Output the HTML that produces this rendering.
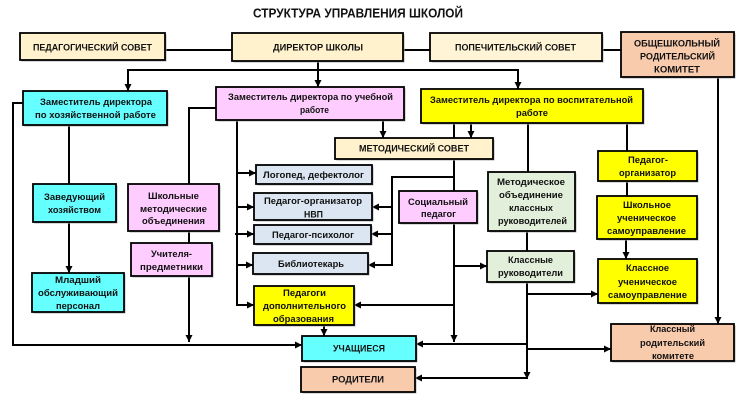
<!DOCTYPE html>
<html><head><meta charset="utf-8"><style>
html,body{margin:0;padding:0;background:#fff;}
svg{display:block;}
text{font-family:"Liberation Sans",sans-serif;font-weight:bold;font-size:9.5px;fill:#111;}
</style></head><body>
<svg width="750" height="408" viewBox="0 0 750 408" xmlns="http://www.w3.org/2000/svg">
<defs>
<marker id="a" viewBox="0 0 8 8" refX="8" refY="4" markerWidth="7" markerHeight="7" markerUnits="userSpaceOnUse" orient="auto"><path d="M0,0 L8,4 L0,8 z" fill="#000"/></marker>
</defs>
<text x="253" y="17.5" textLength="210" lengthAdjust="spacingAndGlyphs" style="font-size:12.5px">СТРУКТУРА УПРАВЛЕНИЯ ШКОЛОЙ</text>

<g stroke="#000" stroke-width="2" fill="none">
<line x1="165" y1="50" x2="232" y2="50"/>
<line x1="403" y1="50" x2="430" y2="50"/>
<line x1="602" y1="50" x2="621" y2="50"/>
<line x1="318" y1="61" x2="318" y2="70"/>
<line x1="127" y1="70" x2="519" y2="70"/>
<line x1="128" y1="70" x2="128" y2="91" marker-end="url(#a)"/>
<line x1="318" y1="70" x2="318" y2="87" marker-end="url(#a)"/>
<line x1="518" y1="70" x2="518" y2="89" marker-end="url(#a)"/>
<line x1="718" y1="77" x2="718" y2="324" marker-end="url(#a)"/>
<polyline points="23,103 13,103 13,345 302,345" marker-end="url(#a)"/>
<line x1="69" y1="125" x2="69" y2="184"/>
<line x1="69" y1="222" x2="69" y2="273" marker-end="url(#a)"/>
<polyline points="216,108 189,108 189,184"/>
<line x1="189" y1="231" x2="189" y2="243"/>
<line x1="189" y1="276" x2="189" y2="342" marker-end="url(#a)"/>
<line x1="237" y1="120" x2="237" y2="306"/>
<line x1="236" y1="173" x2="256" y2="173" marker-end="url(#a)"/>
<line x1="236" y1="207" x2="254" y2="207" marker-end="url(#a)"/>
<line x1="235" y1="234" x2="254" y2="234" marker-end="url(#a)"/>
<line x1="236" y1="265" x2="253" y2="265" marker-end="url(#a)"/>
<line x1="236" y1="305" x2="254" y2="305" marker-end="url(#a)"/>
<line x1="383" y1="120" x2="383" y2="138" marker-end="url(#a)"/>
<line x1="454" y1="123" x2="454" y2="138"/>
<line x1="471" y1="123" x2="471" y2="138" marker-end="url(#a)"/>
<line x1="454" y1="159" x2="454" y2="191"/>
<polyline points="454,177 392,177 392,266"/>
<line x1="393" y1="207" x2="372" y2="207" marker-end="url(#a)"/>
<line x1="393" y1="234" x2="371" y2="234" marker-end="url(#a)"/>
<line x1="393" y1="265" x2="368" y2="265" marker-end="url(#a)"/>
<line x1="454" y1="223" x2="454" y2="342" marker-end="url(#a)"/>
<line x1="455" y1="305" x2="354" y2="305" marker-end="url(#a)"/>
<line x1="453" y1="266" x2="487" y2="266" marker-end="url(#a)"/>
<line x1="324" y1="325" x2="324" y2="336" marker-end="url(#a)"/>
<line x1="528" y1="123" x2="528" y2="172"/>
<line x1="527" y1="231" x2="527" y2="251"/>
<line x1="527" y1="282" x2="527" y2="379" marker-end="url(#a)"/>
<line x1="526" y1="294" x2="598" y2="294" marker-end="url(#a)"/>
<line x1="528" y1="344" x2="416" y2="344" marker-end="url(#a)"/>
<line x1="526" y1="349" x2="611" y2="349" marker-end="url(#a)"/>
<line x1="528" y1="378" x2="415" y2="378" marker-end="url(#a)"/>
<line x1="627" y1="123" x2="627" y2="151"/>
<line x1="627" y1="181" x2="627" y2="196"/>
<line x1="626" y1="239" x2="626" y2="259" marker-end="url(#a)"/>
</g>

<g fill="#b0b0b0" transform="translate(1.5,1.5)">
<rect x="20" y="33" width="145" height="27"/>
<rect x="232" y="33" width="171" height="28"/>
<rect x="430" y="33" width="172" height="28"/>
<rect x="621" y="32" width="113" height="45"/>
<rect x="23" y="91" width="144" height="34"/>
<rect x="216" y="87" width="188" height="33"/>
<rect x="421" y="89" width="222" height="34"/>
<rect x="335" y="138" width="158" height="21"/>
<rect x="256" y="165" width="116" height="19"/>
<rect x="254" y="193" width="118" height="27"/>
<rect x="254" y="225" width="117" height="19"/>
<rect x="253" y="253" width="115" height="21"/>
<rect x="254" y="286" width="100" height="39"/>
<rect x="302" y="336" width="114" height="25"/>
<rect x="301" y="367" width="114" height="25"/>
<rect x="399" y="191" width="78" height="32"/>
<rect x="33" y="184" width="83" height="38"/>
<rect x="32" y="273" width="92" height="39"/>
<rect x="128" y="184" width="91" height="47"/>
<rect x="131" y="243" width="81" height="33"/>
<rect x="488" y="172" width="87" height="59"/>
<rect x="487" y="251" width="87" height="31"/>
<rect x="598" y="151" width="99" height="30"/>
<rect x="597" y="196" width="100" height="43"/>
<rect x="598" y="259" width="99" height="44"/>
<rect x="611" y="324" width="123" height="37"/>
</g>

<g stroke="#000" stroke-width="1.8">
<rect x="20" y="33" width="145" height="27" fill="#fff2cc"/>
<rect x="232" y="33" width="171" height="28" fill="#fff2cc"/>
<rect x="430" y="33" width="172" height="28" fill="#fff4d6"/>
<rect x="621" y="32" width="113" height="45" fill="#f8cbad"/>
<rect x="23" y="91" width="144" height="34" fill="#66ffff"/>
<rect x="216" y="87" width="188" height="33" fill="#ffccff"/>
<rect x="421" y="89" width="222" height="34" fill="#ffff00"/>
<rect x="335" y="138" width="158" height="21" fill="#fff2cc"/>
<rect x="256" y="165" width="116" height="19" fill="#dce6f2"/>
<rect x="254" y="193" width="118" height="27" fill="#dce6f2"/>
<rect x="254" y="225" width="117" height="19" fill="#dce6f2"/>
<rect x="253" y="253" width="115" height="21" fill="#dce6f2"/>
<rect x="254" y="286" width="100" height="39" fill="#ffff00"/>
<rect x="302" y="336" width="114" height="25" fill="#66ffff"/>
<rect x="301" y="367" width="114" height="25" fill="#f8cbad"/>
<rect x="399" y="191" width="78" height="32" fill="#ffccff"/>
<rect x="33" y="184" width="83" height="38" fill="#66ffff"/>
<rect x="32" y="273" width="92" height="39" fill="#66ffff"/>
<rect x="128" y="184" width="91" height="47" fill="#ffccff"/>
<rect x="131" y="243" width="81" height="33" fill="#ffccff"/>
<rect x="488" y="172" width="87" height="59" fill="#e2efda"/>
<rect x="487" y="251" width="87" height="31" fill="#e2efda"/>
<rect x="598" y="151" width="99" height="30" fill="#ffff00"/>
<rect x="597" y="196" width="100" height="43" fill="#ffff00"/>
<rect x="598" y="259" width="99" height="44" fill="#ffff00"/>
<rect x="611" y="324" width="123" height="37" fill="#f8cbad"/>
</g>

<g>
<text x="33" y="50.5" textLength="119" lengthAdjust="spacingAndGlyphs">ПЕДАГОГИЧЕСКИЙ СОВЕТ</text>
<text x="273" y="50.5" textLength="90" lengthAdjust="spacingAndGlyphs">ДИРЕКТОР ШКОЛЫ</text>
<text x="455" y="50.5" textLength="121" lengthAdjust="spacingAndGlyphs">ПОПЕЧИТЕЛЬСКИЙ СОВЕТ</text>
<text x="634" y="46.5" textLength="86" lengthAdjust="spacingAndGlyphs">ОБЩЕШКОЛЬНЫЙ</text>
<text x="640" y="59.5" textLength="75" lengthAdjust="spacingAndGlyphs">РОДИТЕЛЬСКИЙ</text>
<text x="654" y="72.5" textLength="46" lengthAdjust="spacingAndGlyphs">КОМИТЕТ</text>
<text x="40" y="105" textLength="112" lengthAdjust="spacingAndGlyphs">Заместитель директора</text>
<text x="35" y="118" textLength="121" lengthAdjust="spacingAndGlyphs">по  хозяйственной работе</text>
<text x="228" y="100" textLength="165" lengthAdjust="spacingAndGlyphs">Заместитель директора по учебной</text>
<text x="300" y="113" textLength="29" lengthAdjust="spacingAndGlyphs">работе</text>
<text x="430" y="103" textLength="203" lengthAdjust="spacingAndGlyphs">Заместитель директора по воспитательной</text>
<text x="516" y="116" textLength="32" lengthAdjust="spacingAndGlyphs">работе</text>
<text x="359" y="151.5" textLength="110" lengthAdjust="spacingAndGlyphs">МЕТОДИЧЕСКИЙ СОВЕТ</text>
<text x="263" y="178" textLength="101" lengthAdjust="spacingAndGlyphs">Логопед, дефектолог</text>
<text x="264" y="204" textLength="98" lengthAdjust="spacingAndGlyphs">Педагог-организатор</text>
<text x="304" y="217.5" textLength="19" lengthAdjust="spacingAndGlyphs">НВП</text>
<text x="272" y="238" textLength="82" lengthAdjust="spacingAndGlyphs">Педагог-психолог</text>
<text x="278" y="267" textLength="66" lengthAdjust="spacingAndGlyphs">Библиотекарь</text>
<text x="283" y="296" textLength="43" lengthAdjust="spacingAndGlyphs">Педагоги</text>
<text x="263" y="309" textLength="83" lengthAdjust="spacingAndGlyphs">дополнительного</text>
<text x="273" y="322" textLength="61" lengthAdjust="spacingAndGlyphs">образования</text>
<text x="333" y="351.5" textLength="52" lengthAdjust="spacingAndGlyphs">УЧАЩИЕСЯ</text>
<text x="332" y="382.5" textLength="52" lengthAdjust="spacingAndGlyphs">РОДИТЕЛИ</text>
<text x="408" y="205" textLength="60" lengthAdjust="spacingAndGlyphs">Социальный</text>
<text x="421" y="217" textLength="35" lengthAdjust="spacingAndGlyphs">педагог</text>
<text x="44" y="200" textLength="61" lengthAdjust="spacingAndGlyphs">Заведующий</text>
<text x="48" y="213" textLength="53" lengthAdjust="spacingAndGlyphs">хозяйством</text>
<text x="55" y="283" textLength="46" lengthAdjust="spacingAndGlyphs">Младший</text>
<text x="38" y="296" textLength="80" lengthAdjust="spacingAndGlyphs">обслуживающий</text>
<text x="56" y="309" textLength="44" lengthAdjust="spacingAndGlyphs">персонал</text>
<text x="148" y="199" textLength="51" lengthAdjust="spacingAndGlyphs">Школьные</text>
<text x="140" y="212" textLength="67" lengthAdjust="spacingAndGlyphs">методические</text>
<text x="142" y="224" textLength="63" lengthAdjust="spacingAndGlyphs">объединения</text>
<text x="151" y="257" textLength="41" lengthAdjust="spacingAndGlyphs">Учителя-</text>
<text x="140" y="270" textLength="63" lengthAdjust="spacingAndGlyphs">предметники</text>
<text x="497" y="185" textLength="68" lengthAdjust="spacingAndGlyphs">Методическое</text>
<text x="499" y="198" textLength="64" lengthAdjust="spacingAndGlyphs">объединение</text>
<text x="509" y="211" textLength="44" lengthAdjust="spacingAndGlyphs">классных</text>
<text x="498" y="224" textLength="69" lengthAdjust="spacingAndGlyphs">руководителей</text>
<text x="508" y="263" textLength="45" lengthAdjust="spacingAndGlyphs">Классные</text>
<text x="498" y="276" textLength="65" lengthAdjust="spacingAndGlyphs">руководители</text>
<text x="628" y="163" textLength="40" lengthAdjust="spacingAndGlyphs">Педагог-</text>
<text x="619" y="176" textLength="57" lengthAdjust="spacingAndGlyphs">организатор</text>
<text x="623" y="208" textLength="48" lengthAdjust="spacingAndGlyphs">Школьное</text>
<text x="617" y="221" textLength="59" lengthAdjust="spacingAndGlyphs">ученическое</text>
<text x="607" y="234" textLength="79" lengthAdjust="spacingAndGlyphs">самоуправление</text>
<text x="626" y="271" textLength="43" lengthAdjust="spacingAndGlyphs">Классное</text>
<text x="618" y="285" textLength="59" lengthAdjust="spacingAndGlyphs">ученическое</text>
<text x="608" y="298" textLength="79" lengthAdjust="spacingAndGlyphs">самоуправление</text>
<text x="650" y="332" textLength="45" lengthAdjust="spacingAndGlyphs">Классный</text>
<text x="640" y="346" textLength="65" lengthAdjust="spacingAndGlyphs">родительский</text>
<text x="652" y="359" textLength="42" lengthAdjust="spacingAndGlyphs">комитете</text>
</g>
</svg>
</body></html>
